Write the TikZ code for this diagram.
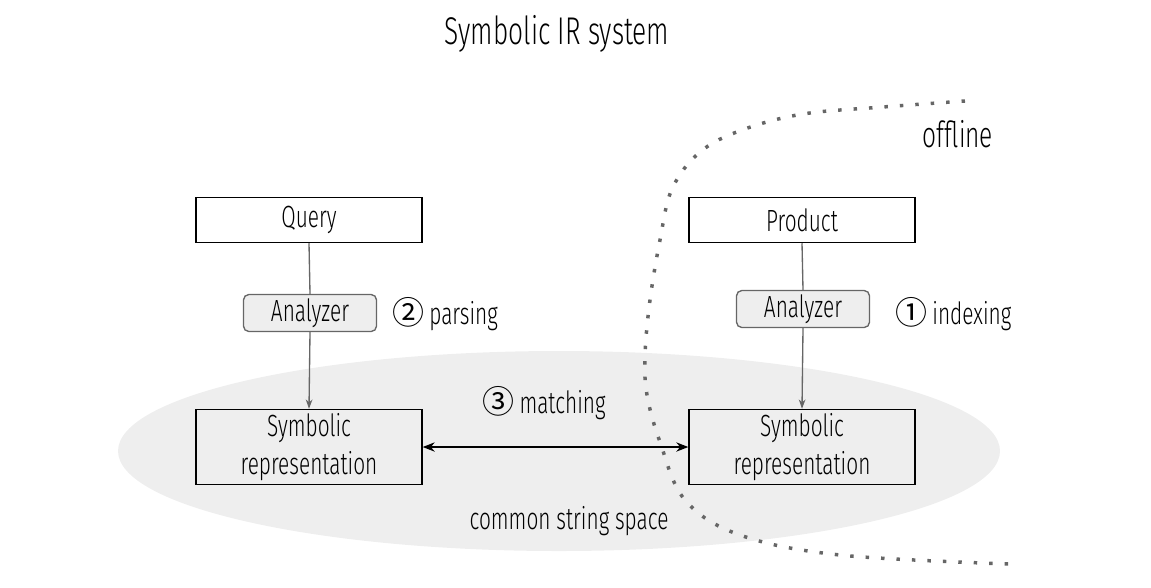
\documentclass[tikz,border=0pt]{standalone}
\usepackage{fontspec}
\setmainfont{Fira Sans Light}[FakeStretch=0.68]
\newfontfamily\symfont{Noto Sans CJK SC}
\usetikzlibrary{arrows.meta}
\definecolor{ellfill}{HTML}{EEEEEE}
\definecolor{anfill}{HTML}{EEEEEE}
\definecolor{linegray}{HTML}{666666}
\begin{document}
\begin{tikzpicture}[x=0.75pt,y=-0.75pt,
  txt/.style={font=\fontsize{23}{28}\selectfont, inner sep=0pt},
  box/.style={draw=black, line width=1.1pt, minimum width=169.5pt, minimum height=33.75pt, inner sep=0pt, align=center, font=\fontsize{23}{28}\selectfont},
  symbox/.style={box, minimum height=56.25pt},
  anbox/.style={draw=linegray, fill=anfill, line width=1pt, rounded corners=4pt, minimum width=99.75pt, minimum height=27.75pt, inner sep=0pt, font=\fontsize{23}{28}\selectfont},
  flow/.style={draw=linegray, line width=1pt},
  flowarrow/.style={flow, -{Stealth[length=7pt,width=5pt]}},
  match/.style={draw=black, line width=1.1pt, {Stealth[length=9pt,width=7pt]}-{Stealth[length=9pt,width=7pt]}},
  border/.style={draw=linegray, line width=2.6pt, dash pattern=on 2.6pt off 9pt}
]
\useasboundingbox (0,0) rectangle (1151,587);
% common string space
\fill[ellfill] (559,451) ellipse [x radius=441, y radius=100];
% title
\node[txt, font=\fontsize{29}{34}\selectfont] (title) at (557,34) {Symbolic IR system};
% offline border
\draw[border] plot[smooth, tension=0.6] coordinates {(965,101) (883,107) (803,114) (742,130) (700,152) (672,189) (660,240) (650,300) (645,355) (647,395) (660,442) (685,500) (740,535) (840,555) (1010,564)};
\node[txt, font=\fontsize{27}{32}\selectfont] (offline) at (958,134) {offline};
% nodes
\node[box] (query) at (309,220) {\raisebox{-2pt}{Query}};
\node[box] (product) at (802,220) {\raisebox{-1pt}{Product}};
\node[anbox] (anq) at (310,313) {Analyzer};
\node[anbox] (anp) at (803,309) {Analyzer};
\node[symbox] (symq) at (309,447) {Symbolic\\representation};
\node[symbox] (symp) at (802,447) {Symbolic\\representation};
% labels
\node[txt, anchor=west] (parsing) at (392,314) {{\symfont\fontsize{24}{28}\selectfont ②}\,parsing};
\node[txt, anchor=west] (indexing) at (895,314) {{\symfont\fontsize{24}{28}\selectfont ①}\,indexing};
\node[txt] (matching) at (544,403) {{\symfont\fontsize{24}{28}\selectfont ③}\,matching};
\node[txt] (space) at (569,521) {common string space};
% connectors
\draw[flow] (query.south) -- (anq.north);
\draw[flowarrow] (anq.south) -- (symq.north);
\draw[flow] (product.south) -- (anp.north);
\draw[flowarrow] (anp.south) -- (symp.north);
\draw[match] (symq.east) -- (symp.west);
\end{tikzpicture}
\end{document}
